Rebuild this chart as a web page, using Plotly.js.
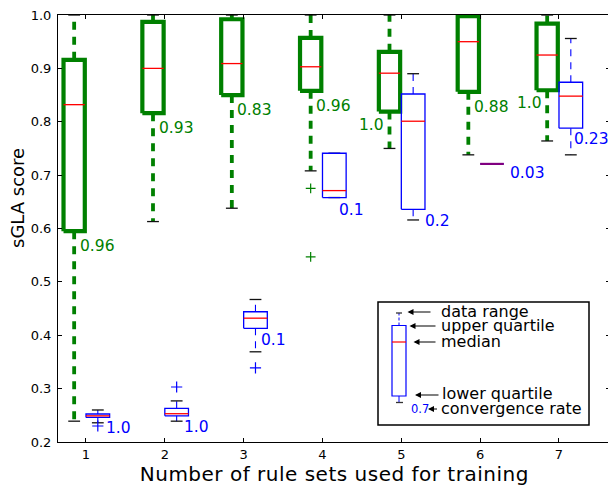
<!DOCTYPE html>
<html>
<head>
<meta charset="utf-8">
<script src="https://cdn.plot.ly/plotly-3.0.1.min.js"></script>
<style>
html, body { margin: 0; padding: 0; overflow: hidden; background: #fff; }
#chart { width: 610px; height: 485px; }
</style>
</head>
<body>
<div id="chart"></div>
<script>
// ---------- data ----------
const positions = [1, 2, 3, 4, 5, 6, 7];
const tickLabels = ['1', '2', '3', '4', '5', '6', '7'];

// green series (thick boxes)
const greenLo  = [0.239, 0.613, 0.638, 0.708, 0.750, 0.738, 0.764];
const greenQ1  = [0.595, 0.816, 0.850, 0.858, 0.819, 0.856, 0.859];
const greenMed = [0.832, 0.900, 0.909, 0.903, 0.891, 0.950, 0.925];
const greenQ3  = [0.916, 0.987, 0.992, 0.957, 0.931, 0.998, 0.984];
const greenHi  = [1.000, 1.000, 1.000, 1.000, 1.000, 1.000, 1.000];
const greenOutX = [4, 4];
const greenOutY = [0.675, 0.547];
const greenRate = ['0.96', '0.93', '0.83', '0.96', '1.0', '0.88', '1.0'];

// blue series (thin boxes)
const blueLo  = [0.236, 0.239, 0.369, 0.658, 0.616, 0.721, 0.738];
const blueQ1  = [0.246, 0.249, 0.413, 0.658, 0.636, 0.721, 0.788];
const blueMed = [0.249, 0.253, 0.432, 0.671, 0.801, 0.721, 0.848];
const blueQ3  = [0.2525, 0.263, 0.444, 0.741, 0.852, 0.721, 0.874];
const blueHi  = [0.260, 0.277, 0.467, 0.741, 0.890, 0.721, 0.956];
const blueOutX = [1, 2, 3];
const blueOutY = [0.230, 0.303, 0.339];
const blueRate = ['1.0', '1.0', '0.1', '0.1', '0.2', '0.03', '0.23'];

// ---------- styling ----------
const GREEN = '#008000', BLUE = '#0000ff', RED = '#ff0000', PURPLE = '#800080';
const FONT = 'DejaVu Sans, Liberation Sans, sans-serif';
const W = 610, H = 485, ML = 58, MR = 0, MT = 15, MB = 43;
const PW = W - ML - MR, PH = H - MT - MB;
// label placement (side of the green box, pixel nudges for the blue labels)
const greenRateSide = ['r', 'r', 'r', 'r', 'l', 'r', 'l'];
const blueNudgeX = [-1, -1, -3, -4, 3, 9, -6];
const blueNudgeY = [0, 0, -1, -1, -1, 2, 0];

function buildBoxSet(offset, width, lo, q1, med, q3, hi) {
  const cx = positions.map(p => p + offset);
  const box = {x: [], y: []}, whisk = {x: [], y: []}, caps = {x: [], y: []};
  const med1 = {x: [], y: []}, medDeg = {x: [], y: []};
  const capHalf = 0.075;
  cx.forEach((c, i) => {
    const l = c - width / 2, r = c + width / 2;
    box.x.push(l, r, r, l, l, null); box.y.push(q1[i], q1[i], q3[i], q3[i], q1[i], null);
    whisk.x.push(c, c, null, c, c, null); whisk.y.push(q3[i], hi[i], null, q1[i], lo[i], null);
    caps.x.push(c - capHalf, c + capHalf, null, c - capHalf, c + capHalf, null);
    caps.y.push(hi[i], hi[i], null, lo[i], lo[i], null);
    const target = (q1[i] === q3[i]) ? medDeg : med1;
    target.x.push(l, r, null); target.y.push(med[i], med[i], null);
  });
  return {cx, box, whisk, caps, med1, medDeg};
}

const G = buildBoxSet(-0.15, 0.27, greenLo, greenQ1, greenMed, greenQ3, greenHi);
const B = buildBoxSet(0.15, 0.30, blueLo, blueQ1, blueMed, blueQ3, blueHi);

function line(d, color, width, dash) {
  return {type: 'scatter', mode: 'lines', x: d.x, y: d.y, hoverinfo: 'skip',
    showlegend: false, connectgaps: false,
    line: {color: color, width: width, dash: dash || 'solid'}};
}

const traces = [
  line(G.whisk, GREEN, 3.8, '8px,7px'),
  line(B.whisk, BLUE, 1.1, '7px,6px'),
  line(G.caps, '#111', 1.3),
  line(B.caps, '#111', 1.3),
  line(G.box, GREEN, 4.2),
  line(B.box, BLUE, 1.3),
  line(G.med1, RED, 1.3),
  line(B.med1, RED, 1.3),
  line(B.medDeg, PURPLE, 2.2),
  {type: 'scatter', mode: 'markers', x: greenOutX.map(v => v - 0.15), y: greenOutY,
   hoverinfo: 'skip', showlegend: false,
   marker: {symbol: 'cross-thin', size: 7, line: {color: GREEN, width: 1.2}}},
  {type: 'scatter', mode: 'markers', x: blueOutX.map(v => v + 0.15), y: blueOutY,
   hoverinfo: 'skip', showlegend: false,
   marker: {symbol: 'cross-thin', size: 8, line: {color: BLUE, width: 1.2}}}
];

// ---------- annotations ----------
const annotations = [];
positions.forEach((p, i) => {
  const gl = p - 0.15 - 0.135, gr = p - 0.15 + 0.135;
  if (greenRateSide[i] === 'r') {
    annotations.push({x: gr, y: greenQ1[i], xref: 'x', yref: 'y', text: greenRate[i],
      showarrow: false, xanchor: 'left', yanchor: 'top', xshift: -6, yshift: -5,
      font: {family: FONT, size: 15.5, color: GREEN}, borderpad: 0});
  } else {
    annotations.push({x: gl, y: greenQ1[i], xref: 'x', yref: 'y', text: greenRate[i],
      showarrow: false, xanchor: 'right', yanchor: 'top', xshift: 6, yshift: -3,
      font: {family: FONT, size: 15.5, color: GREEN}, borderpad: 0});
  }
  const br = p + 0.15 + 0.15;
  annotations.push({x: br, y: blueQ1[i], xref: 'x', yref: 'y', text: blueRate[i],
    showarrow: false, xanchor: 'left', yanchor: 'top',
    xshift: -4 + blueNudgeX[i], yshift: -1 + blueNudgeY[i],
    font: {family: FONT, size: 15.5, color: BLUE}, borderpad: 0});
});

const px = v => (v - ML) / PW;
const py = v => (H - MB - v) / PH;

annotations.push({x: px(17.5), y: py(197.5), xref: 'paper', yref: 'paper', text: 'sGLA score',
  textangle: -90, showarrow: false, xanchor: 'center', yanchor: 'middle',
  font: {family: FONT, size: 18, color: '#000'}});
const xTitleIndex = annotations.length;
annotations.push({x: px(334), y: py(474), xref: 'paper', yref: 'paper',
  text: 'Number of rule sets used for training', showarrow: false,
  xanchor: 'center', yanchor: 'middle', font: {family: FONT, size: 20, color: '#000'}});

const keyText = [
  ['data range', 439.5, 311.5],
  ['upper quartile', 439.5, 326],
  ['median', 439.5, 341.5],
  ['lower quartile', 440.5, 393.5],
  ['convergence rate', 439.5, 408.5]
];
keyText.forEach(k => annotations.push({x: px(k[1]), y: py(k[2]), xref: 'paper', yref: 'paper',
  text: k[0], showarrow: false, xanchor: 'left', yanchor: 'middle', borderpad: 0,
  font: {family: FONT, size: 16, color: '#000'}}));
annotations.push({x: px(409.5), y: py(408.5), xref: 'paper', yref: 'paper', text: '0.7',
  showarrow: false, xanchor: 'left', yanchor: 'middle', borderpad: 0,
  font: {family: FONT, size: 11.5, color: BLUE}});
const keyArrows = [
  [407.5, 312, 432], [409.5, 326, 437], [413.5, 342, 437], [415, 395, 440], [428, 409, 438.5]
];
keyArrows.forEach(a => annotations.push({x: px(a[0]), y: py(a[1]), xref: 'paper', yref: 'paper',
  text: '', showarrow: true, ax: a[2] - a[0], ay: 0, arrowhead: 2, arrowsize: 1,
  arrowwidth: 1.2, arrowcolor: '#000', standoff: 0, startstandoff: 0}));

const shapes = [
  {type: 'rect', xref: 'paper', yref: 'paper', x0: px(378), x1: px(589), y0: py(425), y1: py(302),
   line: {color: '#000', width: 1.5}, fillcolor: 'rgba(255,255,255,0)', layer: 'above'},
  {type: 'line', xref: 'paper', yref: 'paper', x0: px(399), x1: px(399), y0: py(325.5), y1: py(313),
   line: {color: BLUE, width: 1, dash: '3px,2px'}},
  {type: 'line', xref: 'paper', yref: 'paper', x0: px(399), x1: px(399), y0: py(396), y1: py(402.5),
   line: {color: BLUE, width: 1}},
  {type: 'line', xref: 'paper', yref: 'paper', x0: px(396), x1: px(402), y0: py(313), y1: py(313),
   line: {color: '#333', width: 1.3}},
  {type: 'line', xref: 'paper', yref: 'paper', x0: px(396), x1: px(403), y0: py(402.5), y1: py(402.5),
   line: {color: '#333', width: 1.3}},
  {type: 'rect', xref: 'paper', yref: 'paper', x0: px(392), x1: px(406), y0: py(396), y1: py(325.5),
   line: {color: BLUE, width: 1.2}},
  {type: 'line', xref: 'paper', yref: 'paper', x0: px(392), x1: px(406), y0: py(342), y1: py(342),
   line: {color: RED, width: 1.2}}
];

const axisCommon = {
  showline: true, linecolor: '#000', linewidth: 1, mirror: 'ticks',
  ticks: 'inside', ticklen: 4, tickwidth: 1, tickcolor: '#000',
  showgrid: false, zeroline: false, fixedrange: true,
  tickfont: {family: FONT, size: 13, color: '#000'}
};

const layout = {
  width: W, height: H,
  margin: {l: ML, r: MR, t: MT, b: MB, pad: 0},
  paper_bgcolor: '#fff', plot_bgcolor: '#fff',
  showlegend: false,
  xaxis: Object.assign({}, axisCommon, {range: [0.645, 7.647], tickvals: positions, ticktext: tickLabels,
    ticklabelstandoff: 0}),
  yaxis: Object.assign({}, axisCommon, {range: [0.2, 1.0], tick0: 0.2, dtick: 0.1, tickformat: '.1f',
    ticklabelstandoff: 3}),
  annotations: annotations,
  shapes: shapes
};

const st = document.createElement('style');
st.textContent = 'g.annotation[data-index="' + xTitleIndex + '"] text { letter-spacing: 0.5px; }';
document.head.appendChild(st);

Plotly.newPlot('chart', traces, layout, {displayModeBar: false, staticPlot: true});
</script>
</body>
</html>
